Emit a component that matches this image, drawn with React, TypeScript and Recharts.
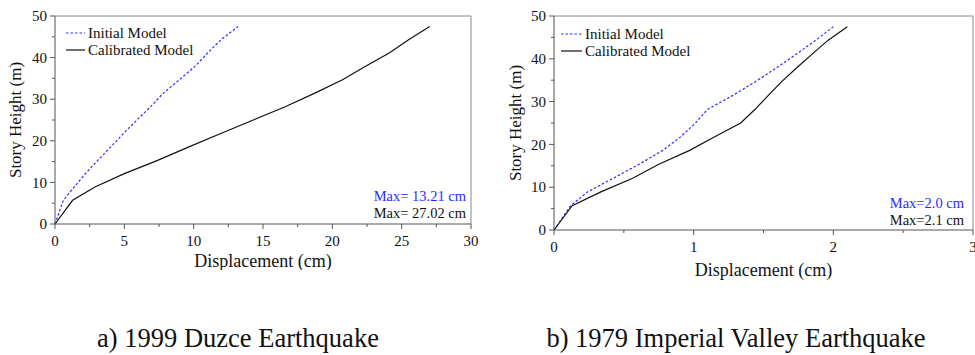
import { LineChart, Line, XAxis, YAxis, ReferenceLine } from 'recharts';

// story levels (m) shared by both buildings' profiles
const heights = [0, 5.7, 8.9, 12.1, 15.3, 18.6, 21.8, 25.0, 28.2, 31.4, 34.6, 37.9, 41.1, 44.3, 47.5];

// a) 1999 Duzce, displacement (cm)
const duzceInitial = [0, 0.6, 1.39, 2.19, 3.08, 4.04, 4.95, 5.91, 6.9, 7.8, 8.94, 10.1, 11.0, 11.97, 13.21];
const duzceCalibrated = [0, 1.27, 2.88, 5.0, 7.4, 9.7, 12.0, 14.3, 16.6, 18.7, 20.7, 22.4, 24.1, 25.5, 27.02];

// b) 1979 Imperial Valley, displacement (cm)
const impInitial = [0, 0.12, 0.24, 0.425, 0.606, 0.78, 0.908, 1.013, 1.1, 1.278, 1.439, 1.593, 1.735, 1.873, 2.0];
const impCalibrated = [0, 0.13, 0.336, 0.563, 0.747, 0.971, 1.151, 1.337, 1.44, 1.533, 1.628, 1.738, 1.848, 1.961, 2.1];

const duzceXTicks = [0, 2.5, 5, 7.5, 10, 12.5, 15, 17.5, 20, 22.5, 25, 27.5, 30];
const impXTicks = [0, 0.5, 1, 1.5, 2, 2.5, 3];
const yTicks = [0, 5, 10, 15, 20, 25, 30, 35, 40, 45, 50];

const BLUE = '#2b2bff';
const AXIS = '#555';
const FONT = '"Liberation Serif", "Times New Roman", serif';

const toPoints = (xs: number[]) => heights.map((h, i) => ({ d: xs[i], h }));

const makeXTick = (step: number) => (props: any) => {
  const { x, y, payload } = props;
  const major = Math.abs(payload.value / step - Math.round(payload.value / step)) < 1e-6;
  return (
    <g>
      <line x1={x} x2={x} y1={y} y2={y + (major ? 5 : 3)} stroke={AXIS} />
      {major && (
        <text x={x} y={y + 17} dy="0.35em" textAnchor="middle" fill="#111" fontSize={15} fontFamily={FONT}>
          {payload.value}
        </text>
      )}
    </g>
  );
};

const YTick = (props: any) => {
  const { x, y, payload } = props;
  const major = payload.value % 10 === 0;
  return (
    <g>
      <line x1={x} x2={x - (major ? 5 : 3)} y1={y} y2={y} stroke={AXIS} />
      {major && (
        <text x={x - 8} y={y} dy="0.35em" textAnchor="end" fill="#111" fontSize={15} fontFamily={FONT}>
          {payload.value}
        </text>
      )}
    </g>
  );
};

interface PanelProps {
  left: number;
  width: number;
  height: number;
  yAxisWidth: number;
  xAxisHeight: number;
  rightMargin: number;
  xMax: number;
  xTicks: number[];
  xStep: number;
  initial: number[];
  calibrated: number[];
  yLabelOffset: number;
  xLabelOffset: number;
}

function Panel(p: PanelProps) {
  return (
    <div style={{ position: 'absolute', left: p.left, top: 0 }}>
      <LineChart
        width={p.width}
        height={p.height}
        margin={{ top: 16, right: p.rightMargin, left: 0, bottom: 0 }}
      >
        <XAxis
          type="number"
          dataKey="d"
          domain={[0, p.xMax]}
          ticks={p.xTicks}
          interval={0}
          height={p.xAxisHeight}
          tickSize={0}
          tickMargin={0}
          tickLine={false}
          tick={makeXTick(p.xStep)}
          axisLine={{ stroke: AXIS }}
          label={{
            value: 'Displacement (cm)',
            position: 'insideBottom',
            offset: p.xLabelOffset,
            style: { fontSize: 18, fontFamily: FONT, fill: '#111' },
          }}
        />
        <YAxis
          type="number"
          dataKey="h"
          domain={[0, 50]}
          ticks={yTicks}
          interval={0}
          width={p.yAxisWidth}
          tickSize={0}
          tickMargin={0}
          tickLine={false}
          tick={YTick}
          axisLine={{ stroke: AXIS }}
          label={{
            value: 'Story Height (m)',
            angle: -90,
            position: 'insideLeft',
            offset: p.yLabelOffset,
            style: { fontSize: 17, fontFamily: FONT, fill: '#111', textAnchor: 'middle' },
          }}
        />
        <ReferenceLine y={50} stroke="#888" />
        <ReferenceLine x={p.xMax} stroke="#888" />
        <Line
          data={toPoints(p.initial)}
          dataKey="h"
          type="linear"
          stroke={BLUE}
          strokeWidth={1.2}
          strokeDasharray="2.5 2"
          dot={false}
          isAnimationActive={false}
        />
        <Line
          data={toPoints(p.calibrated)}
          dataKey="h"
          type="linear"
          stroke="#111"
          strokeWidth={1.2}
          dot={false}
          isAnimationActive={false}
        />
      </LineChart>
    </div>
  );
}

function LegendBox({ left, top, lineW }: { left: number; top: number; lineW: number }) {
  const row = (dash: boolean, color: string, label: string, y: number) => (
    <div style={{ position: 'absolute', left: 0, top: y, display: 'flex', alignItems: 'center', whiteSpace: 'nowrap' }}>
      <svg width={lineW} height={4} style={{ marginRight: 3 }}>
        <line x1={0} x2={lineW} y1={2} y2={2} stroke={color} strokeWidth={1.2} strokeDasharray={dash ? '2.5 2' : undefined} />
      </svg>
      <span style={{ fontSize: 15, lineHeight: '16px' }}>{label}</span>
    </div>
  );
  return (
    <div style={{ position: 'absolute', left, top, fontFamily: FONT, color: '#111' }}>
      {row(true, BLUE, 'Initial Model', 0)}
      {row(false, '#111', 'Calibrated Model', 17)}
    </div>
  );
}

function MaxNote({ right, top, a, b }: { right: number; top: number; a: string; b: string }) {
  return (
    <div style={{ position: 'absolute', right, top, fontFamily: FONT, fontSize: 14.5, lineHeight: '17px', textAlign: 'right' }}>
      <div style={{ color: BLUE }}>{a}</div>
      <div style={{ color: '#111' }}>{b}</div>
    </div>
  );
}

const captionStyle = {
  position: 'absolute' as const,
  top: 323,
  textAlign: 'center' as const,
  fontFamily: FONT,
  fontSize: 26.5,
  lineHeight: '30px',
  color: '#111',
  whiteSpace: 'nowrap' as const,
};

export default function App() {
  return (
    <div style={{ position: 'absolute', left: 0, top: 0, width: 975, height: 355, background: '#fff', overflow: 'hidden' }}>
      <Panel
        left={0}
        width={480}
        height={270}
        yAxisWidth={55}
        xAxisHeight={46}
        rightMargin={9}
        xMax={30}
        xTicks={duzceXTicks}
        xStep={5}
        initial={duzceInitial}
        calibrated={duzceCalibrated}
        yLabelOffset={15}
        xLabelOffset={3}
      />
      <Panel
        left={490}
        width={485}
        height={280}
        yAxisWidth={64}
        xAxisHeight={50}
        rightMargin={2}
        xMax={3}
        xTicks={impXTicks}
        xStep={1}
        initial={impInitial}
        calibrated={impCalibrated}
        yLabelOffset={25}
        xLabelOffset={4}
      />
      <LegendBox left={66} top={25} lineW={19} />
      <LegendBox left={561} top={26} lineW={21} />
      <MaxNote right={975 - 466} top={188} a="Max= 13.21 cm" b="Max= 27.02 cm" />
      <MaxNote right={975 - 964} top={195} a="Max=2.0 cm" b="Max=2.1 cm" />
      <div style={{ ...captionStyle, left: 38, width: 400 }}>a) 1999 Duzce Earthquake</div>
      <div style={{ ...captionStyle, left: 536, width: 400 }}>b) 1979 Imperial Valley Earthquake</div>
    </div>
  );
}
